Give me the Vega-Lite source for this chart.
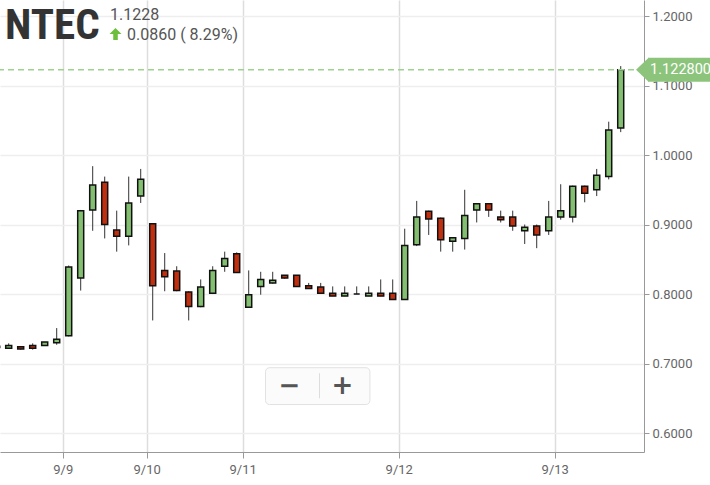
{
  "$schema": "https://vega.github.io/schema/vega-lite/v6.json",
  "width": 644,
  "height": 452,
  "autosize": "none",
  "padding": {"left": 0, "top": 0, "right": 66, "bottom": 33},
  "background": "white",
  "view": {"stroke": null},
  "config": {"font": "Roboto"},
  "datasets": {
    "candles": [
      {"i": -1, "open": 0.723, "high": 0.727, "low": 0.721, "close": 0.725},
      {"i": 0, "open": 0.722, "high": 0.729, "low": 0.721, "close": 0.726},
      {"i": 1, "open": 0.724, "high": 0.724, "low": 0.720, "close": 0.721},
      {"i": 2, "open": 0.726, "high": 0.729, "low": 0.720, "close": 0.722},
      {"i": 3, "open": 0.726, "high": 0.731, "low": 0.726, "close": 0.731},
      {"i": 4, "open": 0.730, "high": 0.751, "low": 0.727, "close": 0.735},
      {"i": 5, "open": 0.740, "high": 0.841, "low": 0.739, "close": 0.839},
      {"i": 6, "open": 0.823, "high": 0.921, "low": 0.805, "close": 0.920},
      {"i": 7, "open": 0.921, "high": 0.984, "low": 0.891, "close": 0.957},
      {"i": 8, "open": 0.961, "high": 0.969, "low": 0.880, "close": 0.900},
      {"i": 9, "open": 0.892, "high": 0.920, "low": 0.861, "close": 0.883},
      {"i": 10, "open": 0.883, "high": 0.969, "low": 0.870, "close": 0.931},
      {"i": 11, "open": 0.941, "high": 0.980, "low": 0.931, "close": 0.965},
      {"i": 12, "open": 0.901, "high": 0.901, "low": 0.762, "close": 0.812},
      {"i": 13, "open": 0.834, "high": 0.859, "low": 0.804, "close": 0.825},
      {"i": 14, "open": 0.833, "high": 0.840, "low": 0.804, "close": 0.805},
      {"i": 15, "open": 0.803, "high": 0.804, "low": 0.762, "close": 0.782},
      {"i": 16, "open": 0.782, "high": 0.821, "low": 0.781, "close": 0.810},
      {"i": 17, "open": 0.801, "high": 0.840, "low": 0.800, "close": 0.834},
      {"i": 18, "open": 0.840, "high": 0.861, "low": 0.832, "close": 0.851},
      {"i": 19, "open": 0.858, "high": 0.860, "low": 0.831, "close": 0.831},
      {"i": 20, "open": 0.781, "high": 0.834, "low": 0.780, "close": 0.799},
      {"i": 21, "open": 0.811, "high": 0.832, "low": 0.799, "close": 0.821},
      {"i": 22, "open": 0.816, "high": 0.832, "low": 0.815, "close": 0.820},
      {"i": 23, "open": 0.827, "high": 0.827, "low": 0.822, "close": 0.823},
      {"i": 24, "open": 0.827, "high": 0.827, "low": 0.811, "close": 0.811},
      {"i": 25, "open": 0.812, "high": 0.816, "low": 0.808, "close": 0.808},
      {"i": 26, "open": 0.810, "high": 0.816, "low": 0.801, "close": 0.801},
      {"i": 27, "open": 0.801, "high": 0.811, "low": 0.797, "close": 0.797},
      {"i": 28, "open": 0.797, "high": 0.811, "low": 0.797, "close": 0.801},
      {"i": 29, "open": 0.800, "high": 0.811, "low": 0.800, "close": 0.800},
      {"i": 30, "open": 0.797, "high": 0.811, "low": 0.797, "close": 0.801},
      {"i": 31, "open": 0.801, "high": 0.821, "low": 0.797, "close": 0.797},
      {"i": 32, "open": 0.801, "high": 0.821, "low": 0.792, "close": 0.792},
      {"i": 33, "open": 0.792, "high": 0.894, "low": 0.792, "close": 0.870},
      {"i": 34, "open": 0.871, "high": 0.934, "low": 0.869, "close": 0.911},
      {"i": 35, "open": 0.919, "high": 0.920, "low": 0.885, "close": 0.908},
      {"i": 36, "open": 0.909, "high": 0.910, "low": 0.861, "close": 0.878},
      {"i": 37, "open": 0.876, "high": 0.882, "low": 0.861, "close": 0.881},
      {"i": 38, "open": 0.880, "high": 0.950, "low": 0.864, "close": 0.913},
      {"i": 39, "open": 0.921, "high": 0.931, "low": 0.903, "close": 0.930},
      {"i": 40, "open": 0.930, "high": 0.931, "low": 0.911, "close": 0.921},
      {"i": 41, "open": 0.911, "high": 0.920, "low": 0.903, "close": 0.907},
      {"i": 42, "open": 0.911, "high": 0.920, "low": 0.891, "close": 0.898},
      {"i": 43, "open": 0.891, "high": 0.900, "low": 0.872, "close": 0.896},
      {"i": 44, "open": 0.898, "high": 0.900, "low": 0.866, "close": 0.885},
      {"i": 45, "open": 0.891, "high": 0.934, "low": 0.885, "close": 0.911},
      {"i": 46, "open": 0.911, "high": 0.958, "low": 0.907, "close": 0.920},
      {"i": 47, "open": 0.911, "high": 0.956, "low": 0.903, "close": 0.955},
      {"i": 48, "open": 0.955, "high": 0.956, "low": 0.932, "close": 0.945},
      {"i": 49, "open": 0.950, "high": 0.980, "low": 0.941, "close": 0.971},
      {"i": 50, "open": 0.969, "high": 1.048, "low": 0.965, "close": 1.036},
      {"i": 51, "open": 1.039, "high": 1.128, "low": 1.033, "close": 1.1228}
    ]
  },
  "layer": [
    {
      "data": {"name": "candles"},
      "mark": {"type": "rule", "color": "#333333", "strokeWidth": 1, "clip": true},
      "encoding": {
        "x": {
          "field": "i", "type": "quantitative",
          "scale": {"domain": [-0.725, 52.94], "nice": false, "zero": false, "padding": 0},
          "axis": {
            "title": null, "orient": "bottom",
            "values": [4.5, 11.5, 19.5, 32.5, 45.5],
            "labelExpr": "datum.value == 4.5 ? '9/9' : datum.value == 11.5 ? '9/10' : datum.value == 19.5 ? '9/11' : datum.value == 32.5 ? '9/12' : '9/13'",
            "grid": true, "gridColor": "#dddddd", "gridWidth": 1.5,
            "domainColor": "#999999", "domainWidth": 1,
            "tickColor": "#999999", "tickSize": 6,
            "labelColor": "#666666", "labelFontSize": 13, "labelPadding": 5,
            "labelFont": "Roboto"
          }
        },
        "y": {
          "field": "low", "type": "quantitative",
          "scale": {"domain": [0.5727, 1.2231], "nice": false, "zero": false, "padding": 0},
          "axis": {
            "title": null, "orient": "right",
            "values": [0.6, 0.7, 0.8, 0.9, 1.0, 1.1, 1.2],
            "format": ".4f",
            "grid": true, "gridColor": "#eeeeee", "gridWidth": 1.5,
            "domainColor": "#999999", "domainWidth": 1,
            "tickColor": "#999999", "tickSize": 5,
            "labelColor": "#666666", "labelFontSize": 13, "labelPadding": 3,
            "labelFont": "Roboto"
          }
        },
        "y2": {"field": "high"}
      }
    },
    {
      "data": {"name": "candles"},
      "mark": {"type": "bar", "size": 6, "stroke": "#111111", "strokeWidth": 1.5, "clip": true},
      "encoding": {
        "x": {"field": "i", "type": "quantitative"},
        "y": {"field": "open", "type": "quantitative"},
        "y2": {"field": "close"},
        "color": {
          "condition": {"test": "datum.close >= datum.open", "value": "#83bf70"},
          "value": "#c0300f"
        }
      }
    },
    {
      "data": {"values": [{}]},
      "mark": {"type": "rule", "stroke": "#9ed28f", "strokeWidth": 1.5, "strokeDash": [6, 4], "opacity": 1},
      "encoding": {"y": {"datum": 1.1228, "type": "quantitative"}}
    },
    {
      "data": {"values": [{}]},
      "mark": {"type": "rect", "color": "#8cc47c"},
      "encoding": {
        "x": {"datum": 53.275, "type": "quantitative"},
        "x2": {"datum": 58.7},
        "y": {"datum": 1.1056, "type": "quantitative"},
        "y2": {"datum": 1.1400}
      }
    },
    {
      "data": {"values": [{}]},
      "mark": {"type": "point", "shape": "M -1 0 L 0.05 -1 L 0.05 1 Z", "size": 576, "filled": true, "color": "#8cc47c", "opacity": 1},
      "encoding": {
        "x": {"datum": 53.275, "type": "quantitative"},
        "y": {"datum": 1.1228, "type": "quantitative"}
      }
    },
    {
      "data": {"values": [{"label": "1.122800"}]},
      "mark": {"type": "text", "color": "white", "fontSize": 14.5, "align": "left", "baseline": "middle", "font": "Roboto"},
      "encoding": {
        "x": {"datum": 53.45, "type": "quantitative"},
        "y": {"datum": 1.1228, "type": "quantitative"},
        "text": {"field": "label"}
      }
    },
    {
      "data": {"values": [{"label": "NTEC"}]},
      "mark": {"type": "text", "color": "#333333", "fontSize": 43, "fontWeight": "bold", "align": "left", "baseline": "alphabetic", "font": "Roboto Condensed, DejaVu Sans Condensed, Liberation Sans Narrow, Roboto"},
      "encoding": {
        "x": {"datum": -0.31, "type": "quantitative"},
        "y": {"datum": 1.1664, "type": "quantitative"},
        "text": {"field": "label"}
      }
    },
    {
      "data": {"values": [{"label": "1.1228"}]},
      "mark": {"type": "text", "color": "#555555", "fontSize": 16, "align": "left", "baseline": "alphabetic", "font": "Roboto"},
      "encoding": {
        "x": {"datum": 8.44, "type": "quantitative"},
        "y": {"datum": 1.1937, "type": "quantitative"},
        "text": {"field": "label"}
      }
    },
    {
      "data": {"values": [{}]},
      "mark": {"type": "point", "shape": "M 0 -1 L 1 0 L 0.38 0 L 0.38 1 L -0.38 1 L -0.38 0 L -1 0 Z", "size": 144, "filled": true, "color": "#6cbf3a", "opacity": 1},
      "encoding": {
        "x": {"datum": 8.9, "type": "quantitative"},
        "y": {"datum": 1.1741, "type": "quantitative"}
      }
    },
    {
      "data": {"values": [{"label": "0.0860 ( 8.29%)"}]},
      "mark": {"type": "text", "color": "#555555", "fontSize": 16, "align": "left", "baseline": "alphabetic", "font": "Roboto"},
      "encoding": {
        "x": {"datum": 9.86, "type": "quantitative"},
        "y": {"datum": 1.165, "type": "quantitative"},
        "text": {"field": "label"}
      }
    },
    {
      "data": {"values": [{}]},
      "mark": {"type": "rect", "fill": "#fbfbfb", "stroke": "#e2e2e2", "strokeWidth": 1, "cornerRadius": 4},
      "encoding": {
        "x": {"datum": 21.4, "type": "quantitative"},
        "x2": {"datum": 30.1},
        "y": {"datum": 0.694, "type": "quantitative"},
        "y2": {"datum": 0.641}
      }
    },
    {
      "data": {"values": [{}]},
      "mark": {"type": "rule", "color": "#dddddd", "strokeWidth": 1},
      "encoding": {
        "x": {"datum": 25.9, "type": "quantitative"},
        "y": {"datum": 0.686, "type": "quantitative"},
        "y2": {"datum": 0.650}
      }
    },
    {
      "data": {"values": [{"sym": "−", "k": 23.4}, {"sym": "+", "k": 27.8}]},
      "mark": {"type": "text", "color": "#555555", "fontSize": 26, "fontWeight": "bold", "align": "center", "baseline": "middle", "font": "DejaVu Sans"},
      "encoding": {
        "x": {"field": "k", "type": "quantitative"},
        "y": {"datum": 0.668, "type": "quantitative"},
        "text": {"field": "sym"}
      }
    }
  ]
}
